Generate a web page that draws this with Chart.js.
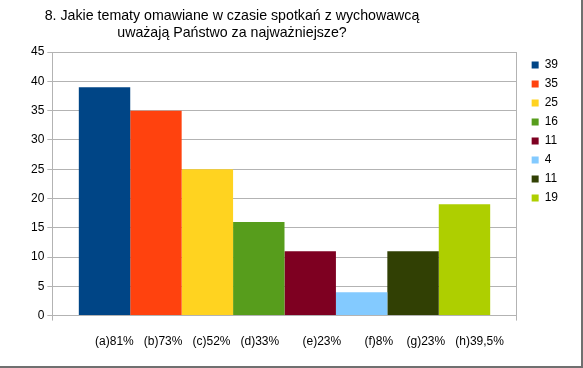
<!DOCTYPE html>
<html>
<head>
<meta charset="utf-8">
<script src="https://cdn.jsdelivr.net/npm/chart.js@4"></script>
<style>
    html, body { margin: 0; padding: 0; background: #fff; overflow: hidden; }
    #frame { position: relative; width: 581px; height: 366px; border-right: 2px solid #707070; border-bottom: 2px solid #707070; }
    #wrap { position: absolute; left: 0; top: 0; width: 581px; height: 366px; }
</style>
</head>
<body>
<div id="frame"><div id="wrap"><canvas id="chart"></canvas></div></div>
<script>
var titleLines = ['8. Jakie tematy omawiane w czasie spotkań z wychowawcą', 'uważają Państwo za najważniejsze?'];
var answerLabels = ['(a)81%', '(b)73%', '(c)52%', '(d)33%', '(e)23%', '(f)8%', '(g)23%', '(h)39,5%'];
var answerGaps = [3, 3, 3, 7, 7, 4, 3];
var answerCounts = [39, 35, 25, 16, 11, 4, 11, 19];
var barColors = ['#004586', '#ff420e', '#ffd320', '#579d1c', '#7e0021', '#83caff', '#314004', '#aecf00'];
var yMin = 0, yMax = 45, yStep = 5;

// the original has all answers as one category string, spaced out
var categoryLabel = answerLabels.reduce(function (acc, lbl, i) {
    return acc + ' '.repeat(answerGaps[i - 1]) + lbl;
});

var datasets = answerCounts.map(function (v, i) {
    return {
        label: String(v),
        data: [v],
        backgroundColor: barColors[i],
        borderWidth: 0
    };
});

// title sits left of centre in the original, legend a bit away from the plot
var layoutTweaks = {
    id: 'layoutTweaks',
    afterLayout: function (chart) {
        var t = chart.titleBlock;
        if (t) {
            t.right = 464 - t.left;
        }
        var lg = chart.legend;
        if (lg) {
            lg.left += 8;
            lg.right += 8;
        }
    }
};

Chart.defaults.font.family = '"Liberation Sans", Arial, sans-serif';
Chart.defaults.color = '#000';

var ctx = document.getElementById('chart').getContext('2d');
var chart = new Chart(ctx, {
    type: 'bar',
    data: {
        labels: [categoryLabel],
        datasets: datasets
    },
    plugins: [layoutTweaks],
    options: {
        responsive: true,
        maintainAspectRatio: false,
        animation: false,
        layout: {
            padding: { left: 28, right: 21, top: 4, bottom: 3 }
        },
        datasets: {
            bar: { categoryPercentage: 0.886, barPercentage: 1 }
        },
        plugins: {
            title: {
                display: true,
                text: titleLines,
                color: '#000',
                font: { size: 14.2, weight: 'normal', lineHeight: 1.2 },
                padding: { top: 4, bottom: 10 }
            },
            legend: {
                position: 'right',
                align: 'start',
                fullSize: false,
                onClick: null,
                labels: {
                    boxWidth: 7,
                    boxHeight: 7,
                    padding: 7,
                    color: '#000',
                    font: { size: 12 }
                }
            },
            tooltip: { enabled: false }
        },
        scales: {
            x: {
                grid: { color: '#b3b3b3', tickLength: 5 },
                border: { color: '#b3b3b3' },
                ticks: {
                    padding: 14,
                    labelOffset: 15,
                    maxRotation: 0,
                    autoSkip: false,
                    font: { size: 12 }
                }
            },
            y: {
                min: yMin,
                max: yMax,
                grid: { color: '#b3b3b3', tickLength: 5 },
                border: { color: '#b3b3b3' },
                ticks: {
                    stepSize: yStep,
                    padding: 3,
                    font: { size: 12 }
                }
            }
        }
    }
});
</script>
</body>
</html>
